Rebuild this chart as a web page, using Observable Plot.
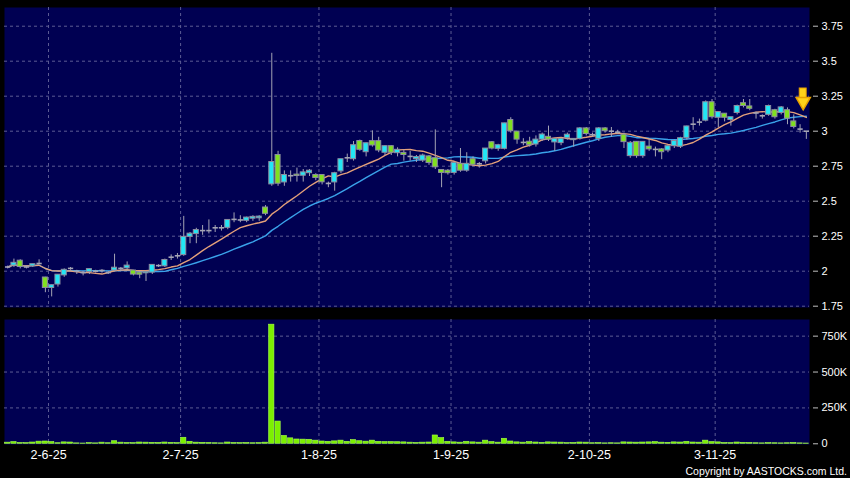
<!DOCTYPE html>
<html><head><meta charset="utf-8">
<script src="https://cdn.jsdelivr.net/npm/d3@7"></script>
<script src="https://cdn.jsdelivr.net/npm/@observablehq/plot@0.6"></script>
<style>
html,body{margin:0;padding:0;background:#000;}
#chart{position:relative;width:850px;height:478px;background:#000;overflow:hidden;}
#price,#volume{position:absolute;left:0;}
#price{top:0;}
#volume{top:312px;}
#copy{position:absolute;right:3px;top:465px;color:#fff;font:10.5px/12px "Liberation Sans",Arial,sans-serif;white-space:nowrap;}
</style></head><body>
<div id="chart"><div id="price"></div><div id="volume"></div><div id="copy">Copyright by AASTOCKS.com Ltd.</div></div>
<script>
// daily OHLC, 128 trading days (22 May 2025 .. 21 Nov 2025)
const open = [2.03,2.04,2.075,2.03,2.035,2.055,1.955,1.88,1.905,1.97,
 2.02,2.0,1.99,1.995,2.0,2.005,1.99,2.005,2.02,2.02,
 2.005,1.99,1.985,1.99,2.04,2.035,2.10,2.11,2.115,2.245,
 2.265,2.29,2.29,2.31,2.31,2.31,2.37,2.366,2.36,2.375,
 2.378,2.455,2.62,2.83,2.634,2.682,2.69,2.682,2.70,2.687,
 2.687,2.627,2.634,2.713,2.81,2.80,2.93,2.85,2.929,2.929,
 2.846,2.893,2.843,2.845,2.82,2.80,2.79,2.82,2.807,2.723,
 2.718,2.702,2.767,2.718,2.80,2.767,2.785,2.921,2.874,2.874,
 3.08,2.997,2.92,2.925,2.905,2.94,2.96,2.92,2.915,2.95,
 2.936,2.945,3.02,2.975,2.945,3.02,3.0,2.993,2.975,2.822,
 2.924,2.822,2.89,2.87,2.87,2.862,2.893,2.89,2.95,3.05,
 3.065,3.075,3.207,3.096,3.125,3.08,3.13,3.20,3.177,3.13,
 3.11,3.117,3.15,3.13,3.15,3.07,3.015,3.0];
const high = [2.04,2.09,2.085,2.04,2.05,2.085,1.96,1.905,1.98,2.02,
 2.03,2.01,2.0,2.02,2.01,2.015,2.0,2.125,2.03,2.07,
 2.01,2.0,2.0,2.05,2.05,2.09,2.12,2.13,2.395,2.28,
 2.31,2.33,2.37,2.33,2.33,2.37,2.42,2.40,2.39,2.40,
 2.40,2.472,3.56,2.86,2.72,2.72,2.74,2.73,2.73,2.70,
 2.69,2.64,2.71,2.80,2.84,2.93,2.94,2.92,3.006,2.96,
 2.90,2.90,2.885,2.87,2.86,2.83,2.84,2.83,3.013,2.73,
 2.73,2.78,2.88,2.85,2.82,2.78,2.88,2.93,2.91,3.06,
 3.10,3.0,2.95,2.96,2.97,2.99,3.04,2.95,2.95,2.99,
 2.95,3.03,3.03,2.99,3.03,3.03,3.03,3.01,2.99,2.93,
 2.93,2.93,2.95,2.89,2.88,2.90,2.94,2.96,3.04,3.10,
 3.09,3.22,3.23,3.14,3.13,3.10,3.19,3.23,3.23,3.14,
 3.12,3.19,3.16,3.18,3.17,3.12,3.05,3.0];
const low = [2.02,2.03,2.02,2.02,2.03,2.05,1.85,1.82,1.89,1.96,
 2.01,1.98,1.97,1.98,1.99,1.99,1.98,2.0,2.0,2.01,
 1.97,1.95,1.93,1.98,2.03,2.03,2.08,2.09,2.11,2.20,
 2.20,2.26,2.27,2.28,2.29,2.30,2.35,2.35,2.35,2.36,
 2.36,2.40,2.61,2.61,2.61,2.64,2.64,2.64,2.68,2.65,
 2.62,2.60,2.575,2.70,2.78,2.79,2.86,2.82,2.89,2.85,
 2.83,2.83,2.82,2.79,2.79,2.78,2.78,2.76,2.73,2.60,
 2.69,2.69,2.71,2.71,2.75,2.74,2.77,2.87,2.86,2.87,
 2.99,2.91,2.90,2.89,2.89,2.93,2.93,2.86,2.90,2.94,
 2.89,2.94,2.97,2.96,2.93,2.99,2.96,2.98,2.88,2.81,
 2.81,2.81,2.86,2.82,2.80,2.85,2.88,2.88,2.94,3.01,
 3.04,3.07,3.09,3.03,3.07,3.04,3.12,3.17,3.15,3.09,
 3.09,3.11,3.09,3.12,3.05,3.02,2.99,2.945];
const close = [2.03,2.06,2.03,2.03,2.05,2.055,1.88,1.90,1.975,2.01,
 2.02,2.0,1.99,2.015,2.0,2.005,1.99,2.025,2.02,2.04,
 1.976,1.975,1.995,2.045,2.04,2.08,2.10,2.11,2.245,2.268,
 2.294,2.29,2.29,2.31,2.31,2.366,2.37,2.366,2.383,2.388,
 2.39,2.41,2.78,2.625,2.687,2.682,2.68,2.706,2.718,2.666,
 2.635,2.627,2.70,2.80,2.81,2.90,2.867,2.914,2.898,2.862,
 2.893,2.846,2.867,2.83,2.82,2.815,2.826,2.773,2.742,2.702,
 2.70,2.774,2.718,2.767,2.76,2.767,2.876,2.876,2.90,3.056,
 3.0,2.94,2.92,2.90,2.94,2.976,2.94,2.945,2.945,2.975,
 2.945,3.02,2.98,2.975,3.02,3.0,3.0,2.993,2.922,2.917,
 2.822,2.924,2.87,2.87,2.85,2.893,2.93,2.95,3.034,3.05,
 3.065,3.207,3.10,3.137,3.096,3.10,3.18,3.18,3.16,3.13,
 3.11,3.18,3.10,3.17,3.09,3.03,3.015,3.0];
const volume = [8000,12000,6000,5000,9000,15000,16000,12000,4000,10000,
 9000,3000,2000,5000,3000,8000,4000,18000,8000,6000,
 5000,9000,8000,7000,6000,9000,7000,5000,42000,14000,
 8000,7000,6000,4000,3000,9000,6000,5000,6000,4000,
 5000,8000,830000,155000,55000,38000,30000,29000,28000,22000,
 16000,14000,17000,22000,14000,26000,18000,15000,22000,14000,
 12000,12000,11000,10000,8000,6000,8000,9000,58000,40000,
 14000,10000,8000,14000,10000,8000,22000,12000,8000,35000,
 16000,10000,8000,12000,9000,7000,10000,9000,8000,5000,
 6000,9000,8000,4000,5000,3000,4000,3000,10000,9000,
 8000,9000,10000,12000,8000,7000,10000,9000,14000,9000,
 8000,22000,12000,10000,6000,5000,9000,7000,6000,4000,
 3000,5000,4000,3000,4000,6000,3000,2000];

// x-axis labels (trading-day index of each labelled date)
const dateTickIndex = [7, 28, 50, 71, 93, 113];
const dateTickLabels = ["2-6-25", "2-7-25", "1-8-25", "1-9-25", "2-10-25", "3-11-25"];
const priceTicks = [1.75, 2, 2.25, 2.5, 2.75, 3, 3.25, 3.5, 3.75];
const volumeTicks = [0, 250000, 500000, 750000];
// latest-day marker arrow (index, top price, shaft end, head centre)
const marker = [{i: 126.5, top: 3.305, shaftEnd: 3.225, head: 3.212}];

const rows = close.map((c, i) => ({i, o: open[i], h: high[i], l: low[i], c, v: volume[i]}));
const bodies = rows.filter(d => d.o !== d.c);
const dojis = rows.filter(d => d.o === d.c);

const NAVY = "#000052";
const GRID = "#5c5c94";
const CYAN = "#22e6f5";
const GREEN = "#80e020";
const WICK = "#a4a4b4";
const font = "'Liberation Sans', Arial, sans-serif";
const xDomain = [-0.5, close.length - 0.5];
const gridXpos = dateTickIndex.map(d => d - 0.5);

const price = Plot.plot({
  width: 850, height: 312,
  marginLeft: 4, marginRight: 41, marginTop: 7, marginBottom: 5,
  style: {background: "transparent", color: "white", fontFamily: font, fontSize: "11px"},
  x: {domain: xDomain, axis: null},
  y: {domain: [1.7407, 3.8836], axis: null},
  marks: [
    Plot.frame({fill: NAVY, stroke: null}),
    Plot.gridY(priceTicks, {stroke: GRID, strokeOpacity: 1, strokeDasharray: "3,3"}),
    Plot.gridX(gridXpos, {stroke: GRID, strokeOpacity: 1, strokeDasharray: "3,3"}),
    Plot.lineY(rows, Plot.windowY({k: 20, anchor: "end"}, {x: "i", y: "c", stroke: "#3aa2ea", strokeWidth: 1.4})),
    Plot.lineY(rows, Plot.windowY({k: 10, anchor: "end"}, {x: "i", y: "c", stroke: "#e4a07a", strokeWidth: 1.4})),
    Plot.link(rows, {x1: "i", x2: "i", y1: "l", y2: "h", stroke: WICK, strokeWidth: 1}),
    Plot.rect(bodies, {x1: d => d.i - 0.4, x2: d => d.i + 0.4,
      y1: d => Math.min(d.o, d.c), y2: d => Math.max(d.o, d.c),
      fill: d => d.c > d.o ? CYAN : GREEN, stroke: "#8c8ca0", strokeWidth: 1}),
    Plot.link(dojis, {x1: d => d.i - 0.42, x2: d => d.i + 0.42, y1: "o", y2: "o", stroke: WICK, strokeWidth: 1.6}),
    Plot.rect(marker, {x1: d => d.i - 0.55, x2: d => d.i + 0.55, y1: "shaftEnd", y2: "top", fill: "#ffd21a", stroke: "#e8a000"}),
    Plot.dot(marker, {x: "i", y: "head", symbol: "triangle", rotate: 180, r: 5.3, fill: "#ffd21a", stroke: "#e8a000"}),
    Plot.axisY(priceTicks, {anchor: "right", label: null, tickSize: 5, tickPadding: 4, dx: 3, stroke: "#c0c0c0", fill: "white", tickFormat: d => String(d), fontSize: 11})
  ]
});
document.getElementById("price").append(price);

const vol = Plot.plot({
  width: 850, height: 166,
  marginLeft: 4, marginRight: 41, marginTop: 7, marginBottom: 34,
  style: {background: "transparent", color: "white", fontFamily: font, fontSize: "11px"},
  x: {domain: xDomain, axis: null},
  y: {domain: [-4900, 866000], axis: null},
  marks: [
    Plot.frame({fill: NAVY, stroke: null}),
    Plot.gridY(volumeTicks.filter(d => d > 0), {stroke: GRID, strokeOpacity: 1, strokeDasharray: "3,3"}),
    Plot.gridX(gridXpos, {stroke: GRID, strokeOpacity: 1, strokeDasharray: "3,3"}),
    Plot.rect(rows, {x1: d => d.i - 0.42, x2: d => d.i + 0.42, y1: 0, y2: "v", fill: "#7cf000", stroke: "#a8ff50", strokeWidth: 0.6}),
    Plot.axisY(volumeTicks, {anchor: "right", label: null, tickSize: 5, tickPadding: 4, dx: 3, stroke: "#c0c0c0", fill: "white",
      tickFormat: d => d === 0 ? "0" : (d / 1000) + "K", fontSize: 11}),
    Plot.axisX(gridXpos, {anchor: "bottom", label: null, tickSize: 0, tickPadding: 6, fill: "white",
      tickFormat: (d, k) => dateTickLabels[k], fontSize: 12.5})
  ]
});
document.getElementById("volume").append(vol);
</script>
</body></html>
